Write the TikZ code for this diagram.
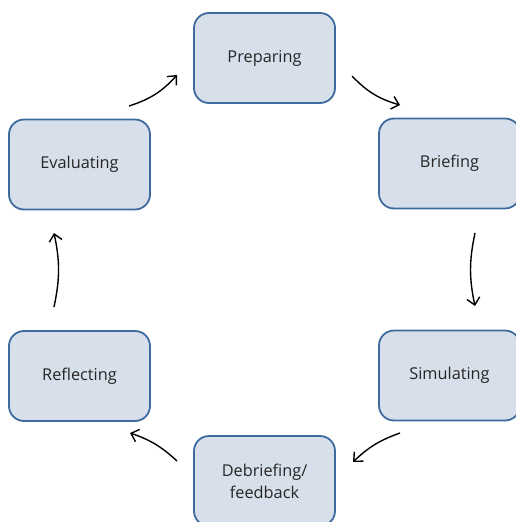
\documentclass[tikz,border=0pt]{standalone}
\usepackage{fontspec}
\setmainfont{Open Sans}
\usetikzlibrary{arrows.meta}
\definecolor{boxfill}{HTML}{D7DFEA}
\definecolor{boxdraw}{HTML}{3E6A9D}
\definecolor{txt}{HTML}{262626}
\tikzset{
  stagebox/.style={draw=boxdraw, fill=boxfill, line width=1.8pt, rounded corners=15pt,
    minimum width=141pt, minimum height=90pt, inner sep=0pt, text=txt,
    align=center, font=\fontsize{16.3}{22}\selectfont},
  cyc/.style={line width=1.4pt, -{Straight Barb[length=7pt,width=13pt,line width=1.4pt]}}
}
\begin{document}
\begin{tikzpicture}[x=1pt,y=-1pt]
\useasboundingbox (0,0) rectangle (516,522);
\clip (0,0) rectangle (516,522);
\node[stagebox] (prep) at (264.5,58) {Preparing};
\node[stagebox] (brief) at (449.5,163.5) {Briefing};
\node[stagebox] (sim) at (449.5,375.5) {Simulating};
\node[stagebox] (debrief) at (264.5,481) {Debriefing/\\feedback};
\node[stagebox] (refl) at (79.5,376) {Reflecting};
\node[stagebox] (eval) at (79.5,164.5) {Evaluating};
\coordinate (a1s) at (352,76);  \coordinate (a1e) at (400,105);
\coordinate (a2s) at (475,233); \coordinate (a2e) at (475,306);
\coordinate (a3s) at (400,433); \coordinate (a3e) at (353,462);
\coordinate (a4s) at (177,461); \coordinate (a4e) at (130,433);
\coordinate (a5s) at (54,307);  \coordinate (a5e) at (54,233);
\coordinate (a6s) at (129,106); \coordinate (a6e) at (177,75);
\draw[cyc] (a1s) to[bend right=15] (a1e);
\draw[cyc] (a2s) to[bend right=12] (a2e);
\draw[cyc] (a3s) to[bend right=12] (a3e);
\draw[cyc] (a4s) to[bend right=12] (a4e);
\draw[cyc] (a5s) to[bend right=12] (a5e);
\draw[cyc] (a6s) to[bend right=15] (a6e);
\end{tikzpicture}
\end{document}
